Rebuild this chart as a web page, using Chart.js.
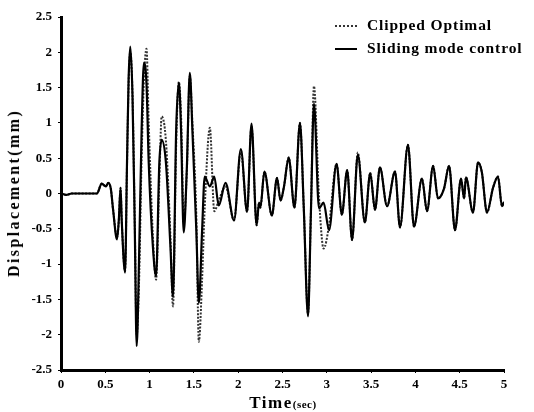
<!DOCTYPE html>
<html>
<head>
<meta charset="utf-8">
<script src="https://cdn.jsdelivr.net/npm/chart.js@4.4.1/dist/chart.umd.min.js"></script>
<style>
    body { margin: 0; background: #fff; }
    #wrap { position: relative; width: 534px; height: 412px; font-family: "Liberation Serif", serif; font-weight: bold; color: #000; }
    #myChart { position: absolute; left: 0; top: 0; }
    .ytitle { position: absolute; left: 14px; top: 193px; transform: translate(-50%, -50%) rotate(-90deg); font-size: 16px; letter-spacing: 2.4px; white-space: nowrap; }
    .xtitle { position: absolute; left: 283px; top: 403px; transform: translate(-50%, -50%); font-size: 17px; letter-spacing: 1.5px; white-space: nowrap; }
    .xtitle small { font-size: 11px; letter-spacing: 0.5px; }
    .legend { position: absolute; left: 335px; font-size: 15.5px; letter-spacing: 0.9px; white-space: nowrap; }
    .legend span.mark { display: inline-block; width: 22px; vertical-align: middle; margin-right: 10px; }
</style>
</head>
<body>
<div id="wrap">
    <canvas id="myChart" width="534" height="412"></canvas>
    <div class="ytitle">Displacement(mm)</div>
    <div class="xtitle">Time<small>(sec)</small></div>
    <div class="legend" style="top:16px"><span class="mark" style="border-top:2px dotted #333"></span>Clipped Optimal</div>
    <div class="legend" style="top:39px"><span class="mark" style="border-top:2px solid #000"></span>Sliding mode control</div>
</div>
<script>
// time in sec, displacement in mm
const time = [0, 0.06, 0.12, 0.405, 0.46, 0.505, 0.534, 0.562, 0.588, 0.632,
    0.653, 0.672, 0.686, 0.723, 0.745, 0.763, 0.782, 0.807, 0.833, 0.854,
    0.88, 0.91, 0.936, 0.965, 0.99, 1.037, 1.073, 1.11, 1.136, 1.184,
    1.235, 1.264, 1.30, 1.33, 1.355, 1.385, 1.42, 1.454, 1.483, 1.527,
    1.556, 1.593, 1.622, 1.68, 1.73, 1.78, 1.857, 1.953, 2.03, 2.1,
    2.15, 2.208, 2.235, 2.25, 2.296, 2.38, 2.438, 2.478, 2.517, 2.57,
    2.635, 2.697, 2.74, 2.788, 2.82, 2.855, 2.912, 2.964, 3.025, 3.11,
    3.17, 3.23, 3.285, 3.35, 3.43, 3.49, 3.544, 3.6, 3.68, 3.77,
    3.826, 3.916, 3.984, 4.074, 4.131, 4.2, 4.255, 4.323, 4.38, 4.447,
    4.515, 4.55, 4.57, 4.65, 4.707, 4.75, 4.808, 4.876, 4.932, 4.977, 5.0];

const sliding = [0, -0.02, 0, 0, 0.14, 0.10, 0.15, 0.07, -0.23, -0.65,
    -0.37, 0.08, -0.4, -1.12, 0.44, 1.62, 2.08, 1.38, -0.51, -2.16,
    -0.98, 0.9, 1.85, 1.55, 0.44, -0.75, -1.17, 0.44, 0.76, 0.44,
    -0.75, -1.46, 0.9, 1.57, 0.9, -0.55, 0.35, 1.71, 0.9, -0.51,
    -1.55, -0.51, 0.24, 0.1, 0.24, -0.17, 0.15, -0.38, 0.63, -0.26,
    0.99, -0.45, -0.13, -0.2, 0.31, -0.31, 0.22, -0.1, 0.1, 0.51,
    -0.2, 1.0, -0.2, -1.74, -0.3, 1.27, -0.21, -0.13, -0.52, 0.42,
    -0.3, 0.33, -0.66, 0.55, -0.41, 0.29, -0.23, 0.37, -0.18, 0.31,
    -0.48, 0.69, -0.47, 0.21, -0.25, 0.39, -0.07, 0.07, 0.39, -0.52,
    0.21, -0.07, 0.23, -0.27, 0.44, 0.3, -0.27, 0.08, 0.24, -0.18, -0.12];

const clipped = [0, -0.02, 0, 0, 0.14, 0.10, 0.15, 0.07, -0.23, -0.62,
    -0.37, 0.08, -0.4, -1.1, 0.4, 1.55, 2.0, 1.4, -0.45, -2.0,
    -1.3, 0.5, 1.6, 2.05, 1.0, -0.6, -1.22, 0.2, 1.09, 0.75,
    -0.6, -1.6, 0.7, 1.58, 1.1, -0.4, 0.3, 1.66, 1.0, -0.3,
    -2.1, -1.2, -0.2, 0.93, -0.25, -0.1, 0.1, -0.38, 0.6, -0.26,
    0.95, -0.45, -0.13, -0.2, 0.31, -0.31, 0.22, -0.1, 0.1, 0.51,
    -0.2, 1.0, -0.2, -1.7, -0.3, 1.52, -0.05, -0.78, -0.45, 0.42,
    -0.3, 0.33, -0.66, 0.58, -0.41, 0.29, -0.23, 0.37, -0.18, 0.31,
    -0.48, 0.69, -0.47, 0.21, -0.25, 0.39, -0.07, 0.07, 0.39, -0.52,
    0.21, -0.07, 0.23, -0.27, 0.44, 0.3, -0.27, 0.08, 0.24, -0.18, -0.12];

const xTicks = [0, 0.5, 1, 1.5, 2, 2.5, 3, 3.5, 4, 4.5, 5];
const yTicks = [-2.5, -2, -1.5, -1, -0.5, 0, 0.5, 1, 1.5, 2, 2.5];

function toPoints(values) {
    let pts = [];
    for (let i = 0; i < time.length; i++) pts.push({x: time[i], y: values[i]});
    return pts;
}

const tickFont = {family: "Liberation Serif", weight: "bold", size: 13};

const ctx = document.getElementById("myChart");
new Chart(ctx, {
    type: 'line',
    data: {
        datasets: [{
            label: 'Sliding mode control',
            data: toPoints(sliding),
            borderColor: '#000',
            borderWidth: 2.2,
            pointRadius: 0,
            fill: false,
            cubicInterpolationMode: 'monotone'
        }, {
            label: 'Clipped Optimal',
            data: toPoints(clipped),
            borderColor: '#333',
            borderWidth: 2,
            borderDash: [2, 1.5],
            pointRadius: 0,
            fill: false,
            cubicInterpolationMode: 'monotone'
        }]
    },
    options: {
        responsive: false,
        animation: false,
        devicePixelRatio: 1,
        layout: {padding: {left: 0, right: 30, top: 17, bottom: 0}},
        plugins: {legend: {display: false}, tooltip: {enabled: false}},
        scales: {
            x: {
                type: 'linear',
                min: 0,
                max: 5,
                afterFit: s => { s.height = 42; },
                afterBuildTicks: s => { s.ticks = xTicks.map(v => ({value: v})); },
                ticks: {color: '#000', font: tickFont, padding: 4, maxRotation: 0, callback: v => String(v)},
                grid: {display: true, drawOnChartArea: false, tickLength: 3, color: '#000'},
                border: {display: true, color: '#000', width: 3}
            },
            y: {
                min: -2.5,
                max: 2.5,
                afterFit: s => { s.width = 61; },
                afterBuildTicks: s => { s.ticks = yTicks.map(v => ({value: v})); },
                ticks: {color: '#000', font: tickFont, padding: 6, callback: v => String(v)},
                grid: {display: true, drawOnChartArea: false, tickLength: 3, color: '#000'},
                border: {display: true, color: '#000', width: 3}
            }
        }
    }
});
</script>
</body>
</html>
